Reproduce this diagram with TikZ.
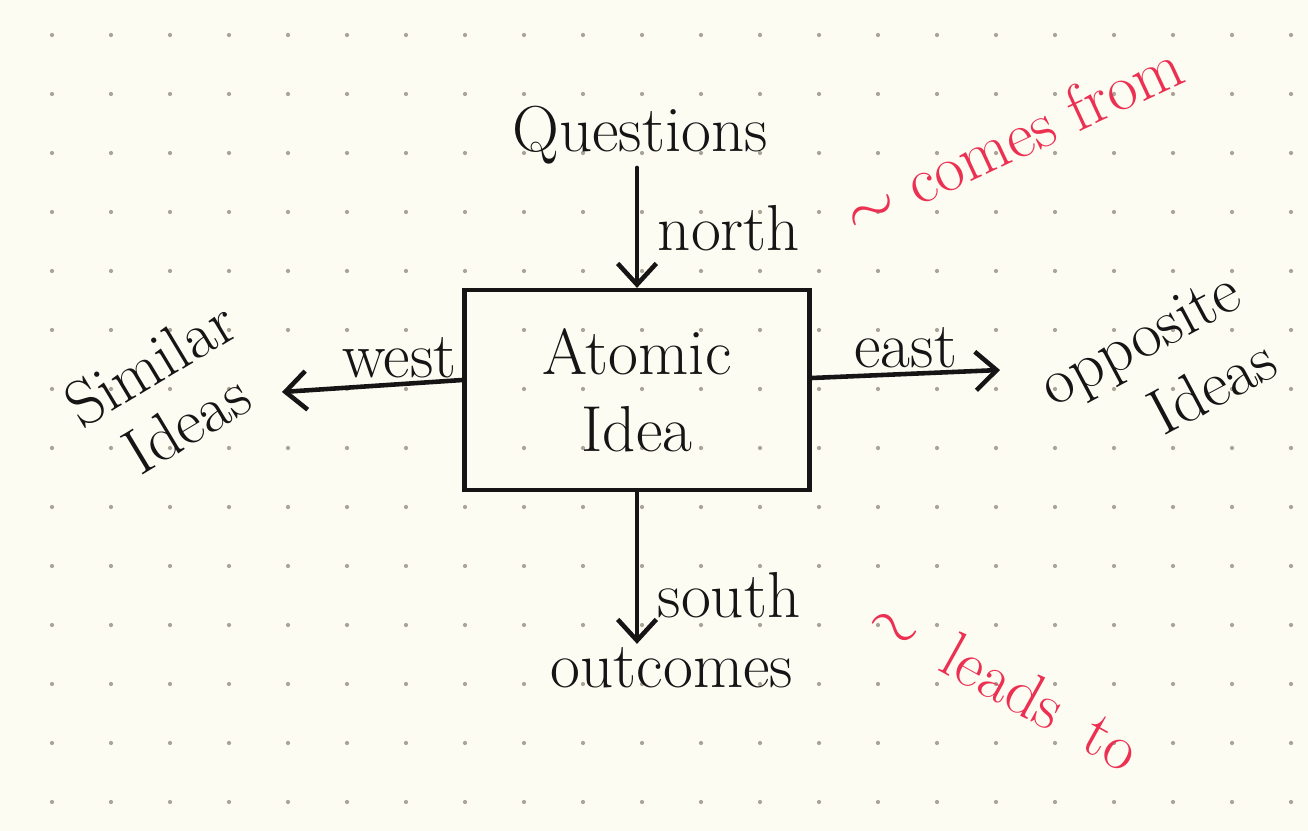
\documentclass[tikz,border=0pt]{standalone}
\usepackage{fix-cm}
\usepackage{tikz}
\usetikzlibrary{arrows.meta}
\definecolor{paper}{RGB}{253,252,243}
\definecolor{dotgray}{RGB}{170,165,152}
\definecolor{ink}{RGB}{22,20,20}
\definecolor{inkred}{RGB}{236,48,82}

\begin{document}
\begin{tikzpicture}[x=0.02cm,y=-0.02cm,
  hand/.style={font=\fontsize{37}{44}\selectfont,text=ink,inner sep=2pt},
  note/.style={font=\fontsize{37}{44}\selectfont,text=inkred},
  link/.style={draw=ink,line width=2.6pt,line cap=round,-{Straight Barb[length=12pt,width=22pt]}}]
\useasboundingbox[fill=paper](0,0)rectangle(1308,831);
% dotted paper
\foreach \i in {0,...,21}
  \foreach \j in {0,...,13}
    \fill[dotgray](52+59*\i,35+59*\j)circle(1.2pt);
% the idea and its neighbours
\node[hand,draw=ink,line width=2.4pt,minimum width=6.9cm,minimum height=4cm,align=center](idea)at(637,390){Atomic\\Idea};
\node[hand](questions)at(640,135){Questions};
\node[hand](outcomes)at(672,668){outcomes};
\node[hand,rotate=31,align=center,font=\fontsize{37}{40}\selectfont](similar)at(168,393){Similar\\Ideas};
\node[hand,rotate=28,align=right](opposite)at(1158,372){opposite\\Ideas};
\coordinate(westtip)at(282,392);
\coordinate(easttip)at(1000,370);
% connectors
\draw[link](questions.south-|idea.north)--(idea.north)node[midway,right,hand,xshift=0.3cm]{north};
\draw[link](idea.south)--(idea.south|-outcomes.north)node[pos=0.68,right,hand,xshift=0.3cm]{south};
\draw[link]([yshift=0.2cm]idea.west)--(westtip)node[pos=0.35,above,hand]{west};
\draw[link]([yshift=0.24cm]idea.east)--(easttip)node[midway,above,hand]{east};
% red notes
\node[note,rotate=25](comesfrom)at(1012,138){$\sim$ comes from};
\node[note,rotate=-29](leadsto)at(1005,682){$\sim$\hspace{0.5em}leads\hspace{0.5em}to};
\end{tikzpicture}
\end{document}
